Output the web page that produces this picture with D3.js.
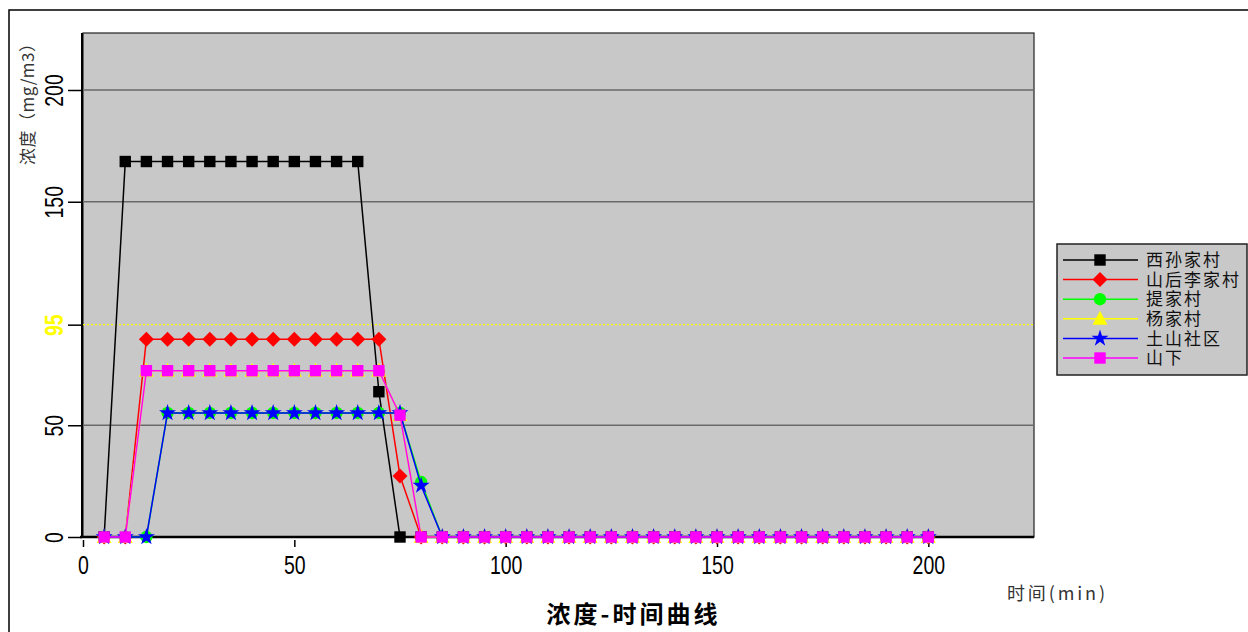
<!DOCTYPE html>
<html><head><meta charset="utf-8">
<script src="https://cdn.jsdelivr.net/npm/d3@7"></script>
<style>body{margin:0;background:#fff}svg{display:block}</style>
</head><body><svg id="c" width="1248" height="632"></svg>
<script>
const times = [5,10,15,20,25,30,35,40,45,50,55,60,65,70,75,80,85,90,95,100,105,110,115,120,125,130,135,140,145,150,155,160,165,170,175,180,185,190,195,200];
const seriesNames = ["西孙家村","山后李家村","提家村","杨家村","土山社区","山下"];
const xisunjia = [0,168,168,168,168,168,168,168,168,168,168,168,168,65,0,0,0,0,0,0,0,0,0,0,0,0,0,0,0,0,0,0,0,0,0,0,0,0,0,0];
const shanhouli = [0,0,88.5,88.5,88.5,88.5,88.5,88.5,88.5,88.5,88.5,88.5,88.5,88.5,27.3,0,0,0,0,0,0,0,0,0,0,0,0,0,0,0,0,0,0,0,0,0,0,0,0,0];
const tijia = [0,0,0,55.5,55.5,55.5,55.5,55.5,55.5,55.5,55.5,55.5,55.5,55.5,55.5,24.6,0,0,0,0,0,0,0,0,0,0,0,0,0,0,0,0,0,0,0,0,0,0,0,0];
const yangjia = [0,0,74.4,74.4,74.4,74.4,74.4,74.4,74.4,74.4,74.4,74.4,74.4,74.4,54.5,0,0,0,0,0,0,0,0,0,0,0,0,0,0,0,0,0,0,0,0,0,0,0,0,0];
const tushan = [0,0,0,55.5,55.5,55.5,55.5,55.5,55.5,55.5,55.5,55.5,55.5,55.5,55.5,23,0,0,0,0,0,0,0,0,0,0,0,0,0,0,0,0,0,0,0,0,0,0,0,0];
const shanxia = [0,0,74.4,74.4,74.4,74.4,74.4,74.4,74.4,74.4,74.4,74.4,74.4,74.4,54.5,0,0,0,0,0,0,0,0,0,0,0,0,0,0,0,0,0,0,0,0,0,0,0,0,0];
const seriesValues = [xisunjia, shanhouli, tijia, yangjia, tushan, shanxia];
const seriesColors = ["#000000","#ff0000","#00ff00","#ffff00","#0000ff","#ff00ff"];
const seriesMarkers = ["square","diamond","circle","triangle","star","square"];
const xTicks = [0,50,100,150,200];
const yTicks = [0,50,95,150,200];
const gridValues = [50,150,200];
const limitValue = 95;

const svg = d3.select("#c");
const L = 83, R = 1034, T = 33, B = 537;
const x = d3.scaleLinear().domain([0,225]).range([L,R]);
const y = d3.scaleLinear().domain([0,225.5]).range([B,T]);
const numFont = "'Liberation Sans',Arial,sans-serif";

// outer frame
svg.append("rect").attr("x",9).attr("y",10).attr("width",1260).attr("height",640)
  .attr("fill","none").attr("stroke","#000").attr("stroke-width",1.5);

// plot bg
svg.append("rect").attr("x",L).attr("y",T).attr("width",R-L).attr("height",B-T)
  .attr("fill","#c8c8c8").attr("stroke","#222").attr("stroke-width",1.2);

// grid
svg.append("g").selectAll("line").data(gridValues).join("line")
  .attr("x1",L).attr("x2",R).attr("y1",d=>y(d)).attr("y2",d=>y(d))
  .attr("stroke","#6a6a6a").attr("stroke-width",1.5);

// limit line
svg.append("line").attr("x1",L).attr("x2",R).attr("y1",y(limitValue)).attr("y2",y(limitValue))
  .attr("stroke","#ffff00").attr("stroke-width",1.2).attr("stroke-dasharray","2,2");

// y axis
const yAxis = d3.axisLeft(y).tickValues(yTicks).tickSize(14).tickFormat(d3.format("d"));
const gy = svg.append("g").attr("transform",`translate(${L-1},0)`).call(yAxis);
gy.select(".domain").attr("stroke","#000").attr("stroke-width",2).attr("d",`M0,${T}V${B}`);
gy.selectAll(".tick line").attr("stroke","#000").attr("stroke-width",1.5);
gy.selectAll(".tick text")
  .attr("transform","rotate(-90) scale(0.75,1)")
  .attr("x",0).attr("y",-19).attr("dy",0)
  .attr("text-anchor","middle")
  .style("font-family",numFont)
  .style("font-size","26px")
  .attr("fill",d=>d===limitValue?"#ffff00":"#000")
  .style("font-weight",d=>d===limitValue?"bold":"normal");

// x axis
const xAxis = d3.axisBottom(x).tickValues(xTicks).tickSize(7).tickFormat(d3.format("d"));
const gx = svg.append("g").attr("transform",`translate(0,${B})`).call(xAxis);
gx.select(".domain").attr("stroke","#000").attr("stroke-width",2.5).attr("d",`M${L-3},0H${R}`);
gx.selectAll(".tick line").attr("stroke","#000").attr("stroke-width",1.5).attr("y1",3).attr("y2",10);
gx.selectAll(".tick text").attr("y",37).attr("dy",0)
  .attr("transform","scale(0.75,1)")
  .style("font-family",numFont)
  .style("font-size","26px").attr("fill","#000");

// marker path generator
function markerPath(type){
  if(type==="square") return d3.symbol(d3.symbolSquare,130)();
  if(type==="circle") return d3.symbol(d3.symbolCircle,120)();
  if(type==="triangle") return "M0,-8L7.5,6L-7.5,6Z";
  if(type==="star") return d3.symbol(d3.symbolStar,90)();
  if(type==="diamond") return "M0,-7.5L7.5,0L0,7.5L-7.5,0Z";
}

const line = d3.line().x(d=>x(d.t)).y(d=>y(d.v));
seriesNames.forEach((name,i)=>{
  const pts = times.map((t,j)=>({t, v: seriesValues[i][j]}));
  const g = svg.append("g");
  g.append("path").datum(pts).attr("d",line).attr("fill","none")
    .attr("stroke",seriesColors[i]).attr("stroke-width",1.5);
  g.selectAll("path.m").data(pts).join("path").attr("class","m")
    .attr("d",markerPath(seriesMarkers[i]))
    .attr("transform",d=>`translate(${x(d.t)},${y(d.v)})`)
    .attr("fill",seriesColors[i]);
});

// legend
const lg = svg.append("g");
lg.append("rect").attr("x",1057).attr("y",244).attr("width",190).attr("height",131)
  .attr("fill","#c8c8c8").attr("stroke","#222").attr("stroke-width",1.5);
seriesNames.forEach((name,i)=>{
  const yy = 260 + i*19.6;
  lg.append("line").attr("x1",1063).attr("x2",1138).attr("y1",yy).attr("y2",yy)
    .attr("stroke",seriesColors[i]).attr("stroke-width",1.5);
  lg.append("path").attr("d",markerPath(seriesMarkers[i]))
    .attr("transform",`translate(1100,${yy})`).attr("fill",seriesColors[i]);
  lg.append("text").attr("x",1146).attr("y",yy).attr("dy","0.36em")
    .style("font-family","'Noto Sans CJK SC',sans-serif").style("font-size","17px")
    .style("letter-spacing","2px")
    .attr("fill","#111").text(name);
});

// y label
svg.append("text").attr("transform","translate(28,100) rotate(-90)")
  .attr("text-anchor","middle").attr("dy","0.35em")
  .attr("textLength",130).attr("lengthAdjust","spacing")
  .style("font-family","'Noto Sans CJK SC',sans-serif").style("font-size","17px")
  .attr("fill","#333").text("浓度（mg/m3）");

// x label
svg.append("text").attr("x",1007).attr("y",594).attr("dy","0.35em")
  .attr("textLength",98).attr("lengthAdjust","spacing")
  .style("font-family","'Noto Sans CJK SC',sans-serif").style("font-size","18px")
  .attr("fill","#333").text("时间(min)");

// title
svg.append("text").attr("x",632).attr("y",615).attr("dy","0.35em").attr("text-anchor","middle")
  .attr("textLength",171).attr("lengthAdjust","spacing")
  .style("font-family","'Noto Sans CJK SC',sans-serif").style("font-size","24px").style("font-weight","bold")
  .attr("fill","#000").text("浓度-时间曲线");
</script></body></html>
